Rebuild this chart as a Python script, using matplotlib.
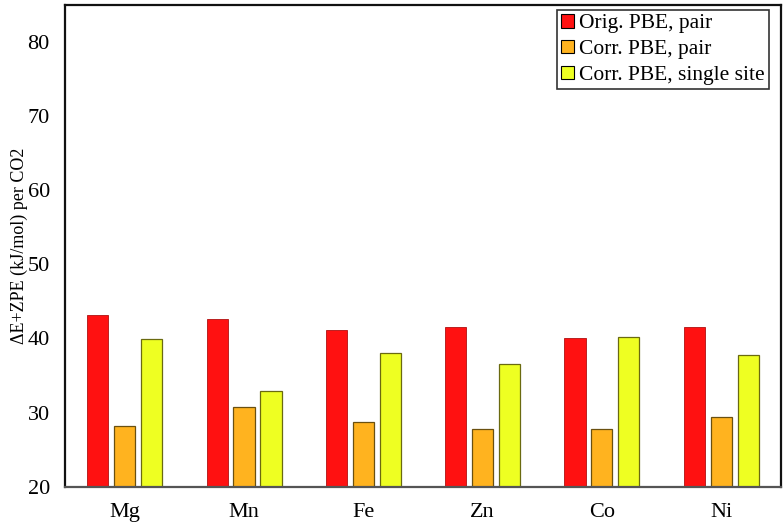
import matplotlib.pyplot as plt
import numpy as np

plt.rcParams['font.family'] = ['Liberation Serif', 'DejaVu Serif']

metals = ['Mg', 'Mn', 'Fe', 'Zn', 'Co', 'Ni']
orig_pair = [43.1, 42.6, 41.1, 41.5, 40.1, 41.6]
corr_pair = [28.2, 30.7, 28.8, 27.8, 27.8, 29.4]
corr_single = [39.9, 32.9, 38.0, 36.5, 40.2, 37.8]
yticks = [20, 30, 40, 50, 60, 70, 80]

fig = plt.figure(figsize=(7.84, 5.28), dpi=100)
ax = fig.add_axes([0.083, 0.078, 0.913, 0.913])

x = np.arange(len(metals))
w = 0.177
step = 0.226
ax.bar(x - step, orig_pair, w, color='#ff1111', edgecolor='#b01010',
       linewidth=0.6, label='Orig. PBE, pair')
ax.bar(x, corr_pair, w, color='#ffb31f', edgecolor='#6a5010',
       linewidth=0.9, label='Corr. PBE, pair')
ax.bar(x + step, corr_single, w, color='#eeff22', edgecolor='#6a6a10',
       linewidth=0.9, label='Corr. PBE, single site')

ax.set_xlim(-0.5, 5.5)
ax.set_ylim(20, 85)
ax.set_yticks(yticks)
ax.set_xticks(x)
ax.set_xticklabels(metals)
ax.tick_params(length=0, labelsize=16)
ax.tick_params(axis='x', pad=12)
ax.tick_params(axis='y', pad=11)
ax.set_ylabel('ΔE+ZPE (kJ/mol) per CO2', fontsize=13, labelpad=0)
for s in ax.spines.values():
    s.set_linewidth(1.6)
    s.set_color('#111111')
ax.spines['bottom'].set_color('#555555')

leg = ax.legend(loc='upper right', fontsize=15.5, frameon=True, fancybox=False,
                edgecolor='black', handlelength=0.6, handleheight=0.6,
                handletextpad=0.25, borderpad=0.2, labelspacing=0.3,
                borderaxespad=0, bbox_to_anchor=(0.984, 0.99))
leg.get_frame().set_linewidth(1.2)
for h in leg.legend_handles:
    h.set_edgecolor('black')
    h.set_linewidth(0.8)

fig.savefig('out.png', dpi=100)
